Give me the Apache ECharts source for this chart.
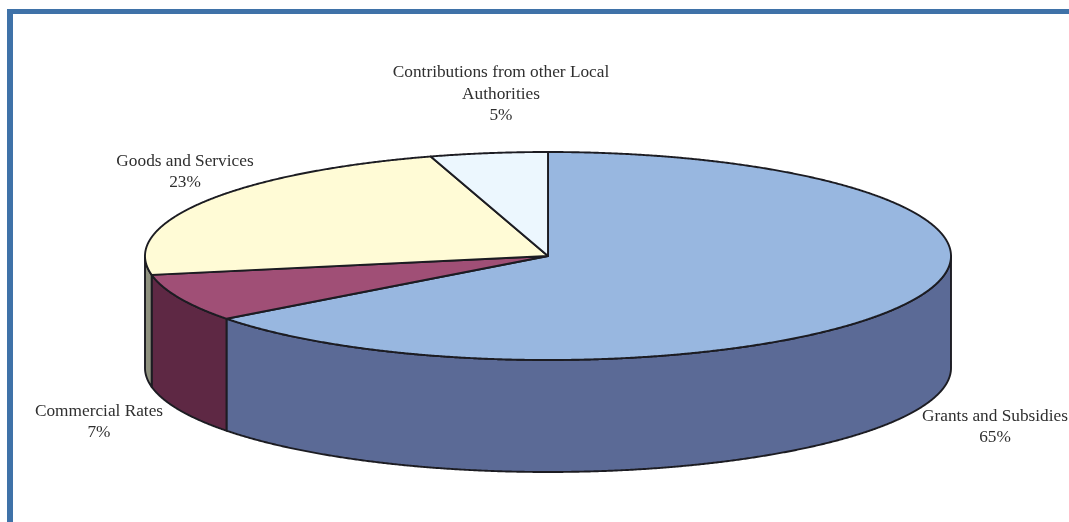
<!DOCTYPE html>
<html><head><meta charset="utf-8">
<style>html,body{margin:0;padding:0;background:#fff}#c{width:1069px;height:522px}</style>
<script src="https://cdn.jsdelivr.net/npm/echarts@6/dist/echarts.min.js"></script>
</head><body><div id="c"></div>
<script>
const categories = ['Grants and Subsidies','Commercial Rates','Goods and Services','Contributions from other Local\nAuthorities'];
const shares = [64.7,7.4,23.2,4.7];
const topColors = ['#98b7e0','#a04f76','#fffbd6','#ecf7fe'];
const sideColors = ['#5b6a96','#5e2844','#8f917f','#7a8088'];
const labelCentres = [[995,427],[99,422],[185,172],[501,94]];
const cx=548, cy=256, rx=403, ry=104, depth=112;
const total = shares.reduce((a,b)=>a+b,0);
const chart = echarts.init(document.getElementById('c'),null,{renderer:'canvas'});
function pt(t,dz){return [cx+rx*Math.sin(t),cy-ry*Math.cos(t)+(dz||0)];}
function arc(a,b,dz){const n=Math.max(2,Math.ceil(Math.abs(b-a)/0.004));const r=[];for(let i=0;i<=n;i++)r.push(pt(a+(b-a)*i/n,dz));return r;}
const stroke={stroke:'#1c1c22',lineWidth:1.9,lineJoin:'round'};
function renderItem(params,api){
  const i=params.dataIndex;
  let before=0;for(let k=0;k<i;k++)before+=shares[k];
  const v=api.value(0);
  const a=before/total*2*Math.PI,b=(before+v)/total*2*Math.PI;
  const children=[];
  const fa=Math.max(a,Math.PI/2),fb=Math.min(b,3*Math.PI/2);
  if(fb>fa){
    const wall=arc(fa,fb,0).concat(arc(fb,fa,depth));
    children.push({type:'polygon',z2:1,shape:{points:wall},style:Object.assign({fill:sideColors[i]},stroke)});
  }
  const top=[[cx,cy]].concat(arc(a,b,0));
  children.push({type:'polygon',z2:2,shape:{points:top},style:Object.assign({fill:topColors[i]},stroke)});
  const c=labelCentres[i];
  children.push({type:'text',z2:3,style:{x:c[0],y:c[1],text:categories[i]+'\n'+Math.round(v)+'%',align:'center',verticalAlign:'middle',
    fill:'#2f2f2f',font:'17.3px "Liberation Serif"',lineHeight:21.5}});
  return {type:'group',children};
}
chart.setOption({
  animation:false,
  backgroundColor:'#fff',
  graphic:[
    {type:'rect',shape:{x:7,y:9,width:1062,height:5},style:{fill:'#3f72a8'},silent:true},
    {type:'rect',shape:{x:7,y:9,width:6,height:513},style:{fill:'#3f72a8'},silent:true}
  ],
  series:[{type:'custom',coordinateSystem:'none',silent:true,renderItem,data:shares.map(v=>[v])}]
});
</script></body></html>
